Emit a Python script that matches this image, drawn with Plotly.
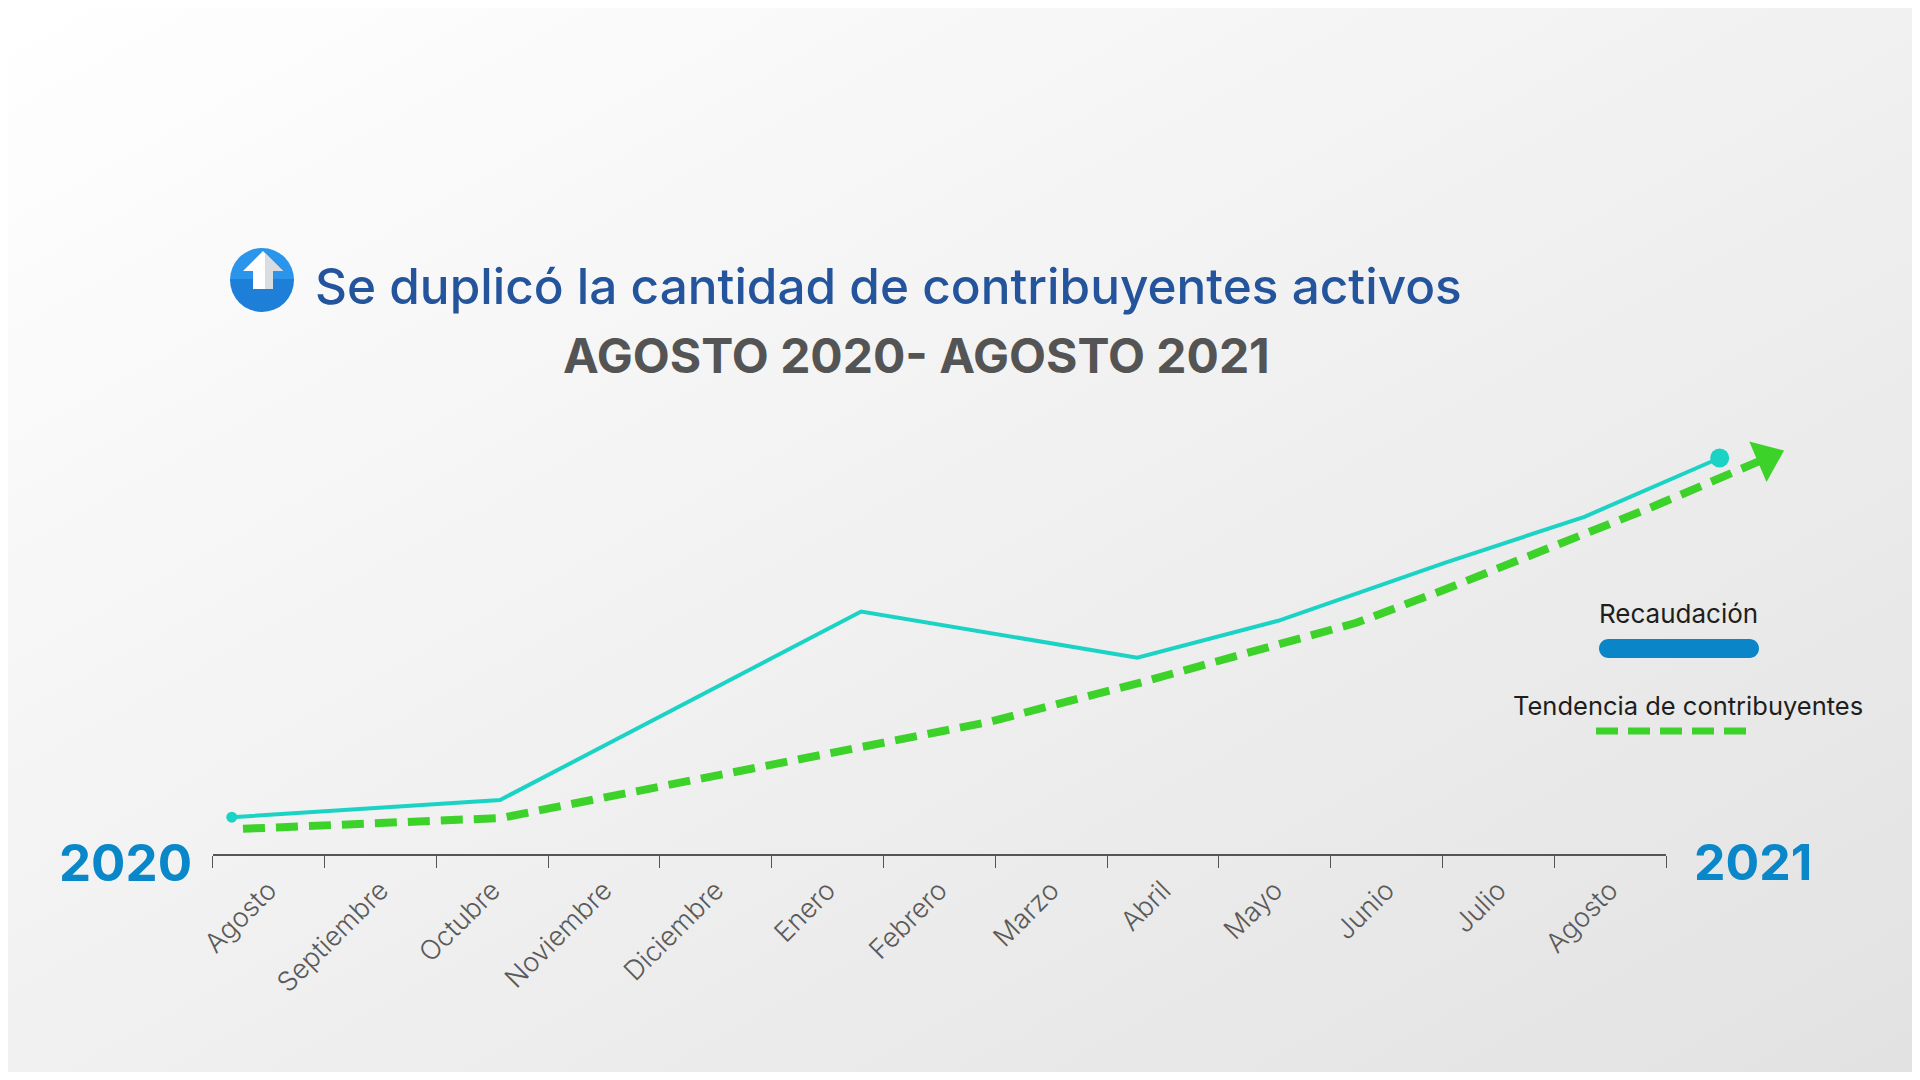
import base64
import plotly.graph_objects as go

# la pagina deja 8 px de margen en el body: la figura ocupa 1904x1064
OFF = 8
W, H = 1920 - 2 * OFF, 1080 - 2 * OFF

# categorías del eje
meses = ["Agosto", "Septiembre", "Octubre", "Noviembre", "Diciembre", "Enero",
         "Febrero", "Marzo", "Abril", "Mayo", "Junio", "Julio", "Agosto"]

# series (x en unidades de mes, 0 = Agosto 2020; y = índice 0-100)
recaudacion_x = [-0.33, 2.07, 5.30, 7.77, 9.03, 10.52, 11.77, 12.98]
recaudacion_y = [9.2, 13.5, 60.6, 49.1, 58.3, 72.8, 84.3, 99.0]

tendencia_x = [-0.23, 2.08, 2.40, 6.44, 7.79, 9.10, 9.73, 10.51, 11.79, 12.38, 13.40]
tendencia_y = [6.3, 9.0, 10.8, 33.0, 42.8, 52.8, 57.8, 66.0, 80.3, 86.8, 99.0]

anio_inicio = "2020"
anio_fin = "2021"
titulo = "Se duplicó la cantidad de contribuyentes activos"
subtitulo = "AGOSTO 2020- AGOSTO 2021"
leyenda = ["Recaudación", "Tendencia de contribuyentes"]

# estilos
FONT = "Inter, Open Sans, sans-serif"
CYAN = "#1BD3C5"
GREEN = "#3DD22A"
BLUE_LEG = "#0A86C8"
AXIS_C = "#555555"

# geometria (pixeles de pantalla)
AX_Y = 854
AX_X0, AX_X1 = 212.8, 1666.0
Y_TOP = 414
step = (AX_X1 - AX_X0) / len(meses)


def SX(x):
    return (x - OFF) / W


def SY(y):
    return 1 - (y - OFF) / H


def P(x, y):
    return f"{SX(x):.5f},{SY(y):.5f}"


y_dom = [SY(AX_Y), SY(Y_TOP)]

# fondo degradado
bg_svg = ('<svg xmlns="http://www.w3.org/2000/svg" width="1920" height="1080" viewBox="0 0 1920 1080" '
          'preserveAspectRatio="none"><defs><linearGradient id="g" x1="0" y1="0" x2="1" y2="1">'
          '<stop offset="0" stop-color="#FFFFFF"/><stop offset="1" stop-color="#E2E2E2"/>'
          '</linearGradient></defs><rect width="1920" height="1080" fill="url(#g)"/></svg>')

icon_svg = ('<svg xmlns="http://www.w3.org/2000/svg" width="64" height="64" viewBox="0 0 64 64">'
            '<defs><clipPath id="c"><circle cx="32" cy="32" r="32"/></clipPath></defs>'
            '<g clip-path="url(#c)"><rect width="64" height="33" fill="#2B95EC"/>'
            '<rect y="31" width="64" height="33" fill="#1D7FD7"/></g>'
            '<path d="M33 3 L13 23 L23 23 L23 41 L43 41 L43 23 L53 23 Z" fill="#FFFFFF"/>'
            '<path d="M33 3 L53 23 L43 23 L43 41 L35 41 L35 5 Z" fill="#D9DCE0"/></svg>')


def uri(svg):
    return "data:image/svg+xml;base64," + base64.b64encode(svg.encode()).decode()


fig = go.Figure()

# traza invisible para que se dibuje el eje de meses
fig.add_trace(go.Scatter(x=list(range(len(meses))), y=[0] * len(meses), mode="none",
                         hoverinfo="skip", xaxis="x", yaxis="y"))

fig.add_trace(go.Scatter(
    x=tendencia_x, y=tendencia_y, mode="lines+markers",
    line=dict(color=GREEN, width=8, dash="22px,11px"),
    marker=dict(symbol="triangle-up", angleref="previous", color=GREEN, opacity=1,
                size=[0] * (len(tendencia_x) - 1) + [38], line=dict(width=0)),
    cliponaxis=False, hoverinfo="skip", xaxis="x2", yaxis="y2"))

fig.add_trace(go.Scatter(
    x=recaudacion_x, y=recaudacion_y, mode="lines+markers",
    line=dict(color=CYAN, width=4),
    marker=dict(color=CYAN, opacity=1, size=[11] + [0] * (len(recaudacion_x) - 2) + [19],
                line=dict(width=0)),
    cliponaxis=False, hoverinfo="skip", xaxis="x2", yaxis="y2"))

# barra azul de la leyenda con extremos redondeados
r, k, cy = 9.5, 0.5523, 648.5
xa, xb = 1608.5, 1749.5
bar_path = (f"M{P(xa, cy - r)} L{P(xb, cy - r)} "
            f"C{P(xb + k * r, cy - r)} {P(xb + r, cy - k * r)} {P(xb + r, cy)} "
            f"C{P(xb + r, cy + k * r)} {P(xb + k * r, cy + r)} {P(xb, cy + r)} "
            f"L{P(xa, cy + r)} "
            f"C{P(xa - k * r, cy + r)} {P(xa - r, cy + k * r)} {P(xa - r, cy)} "
            f"C{P(xa - r, cy - k * r)} {P(xa - k * r, cy - r)} {P(xa, cy - r)} Z")

shapes = [
    dict(type="path", xref="paper", yref="paper", path=bar_path,
         fillcolor=BLUE_LEG, line=dict(width=0)),
    dict(type="line", xref="paper", yref="paper", x0=SX(1596), x1=SX(1747),
         y0=SY(731), y1=SY(731), line=dict(color=GREEN, width=7, dash="22px,10px")),
]

annotations = [
    dict(text=titulo, x=SX(888), y=SY(286), xref="paper", yref="paper", showarrow=False,
         xanchor="center", yanchor="middle",
         font=dict(family=FONT, size=49.5, color="#24559C", weight=500)),
    dict(text=subtitulo, x=SX(916), y=SY(355), xref="paper", yref="paper", showarrow=False,
         xanchor="center", yanchor="middle",
         font=dict(family=FONT, size=48, color="#545454", weight=700)),
    dict(text=anio_inicio, x=SX(194), y=SY(862), xref="paper", yref="paper", showarrow=False,
         xanchor="right", yanchor="middle",
         font=dict(family=FONT, size=51, color="#0A87C8", weight=700)),
    dict(text=anio_fin, x=SX(1692), y=SY(862), xref="paper", yref="paper", showarrow=False,
         xanchor="left", yanchor="middle",
         font=dict(family=FONT, size=50, color="#0A87C8", weight=700)),
    dict(text=leyenda[0], x=SX(1678), y=SY(613), xref="paper", yref="paper", showarrow=False,
         xanchor="center", yanchor="middle",
         font=dict(family=FONT, size=26, color="#1E1E1E", weight=400)),
    dict(text=leyenda[1], x=SX(1688), y=SY(705), xref="paper", yref="paper", showarrow=False,
         xanchor="center", yanchor="middle",
         font=dict(family=FONT, size=25.5, color="#1E1E1E", weight=400)),
]

images = [
    dict(source=uri(bg_svg), xref="paper", yref="paper", x=0, y=1, sizex=1, sizey=1,
         xanchor="left", yanchor="top", sizing="stretch", layer="below"),
    dict(source=uri(icon_svg), xref="paper", yref="paper", x=SX(230), y=SY(248),
         sizex=64 / W, sizey=64 / H, xanchor="left", yanchor="top", sizing="stretch", layer="above"),
]

fig.update_layout(
    width=W, height=H,
    margin=dict(l=0, r=0, t=0, b=0),
    paper_bgcolor="#EFEFEF",
    plot_bgcolor="rgba(0,0,0,0)",
    showlegend=False,
    xaxis=dict(
        domain=[SX(AX_X0), SX(AX_X1)], range=[-0.5, len(meses) - 0.5], anchor="y",
        automargin=False,
        tickmode="array", tickvals=list(range(len(meses))), ticktext=meses,
        ticks="", tickangle=-45, ticklabelstandoff=8,
        tickfont=dict(family=FONT, size=27, color="#5A5A5A", weight=300),
        showline=True, linecolor=AXIS_C, linewidth=1.5,
        showgrid=False, zeroline=False, fixedrange=True,
        minor=dict(tickmode="array", tickvals=[i - 0.5 for i in range(len(meses) + 1)],
                   ticks="outside", ticklen=12, tickwidth=1.2, tickcolor=AXIS_C, showgrid=False),
    ),
    yaxis=dict(domain=y_dom, range=[0, 110], anchor="x", visible=False,
               automargin=False, fixedrange=True),
    xaxis2=dict(domain=[0, 1],
                range=[(OFF - AX_X0) / step - 0.5, (OFF + W - AX_X0) / step - 0.5],
                anchor="y2", visible=False, automargin=False, fixedrange=True),
    yaxis2=dict(domain=y_dom, range=[0, 110], anchor="x2", visible=False,
                automargin=False, fixedrange=True),
    shapes=shapes,
    annotations=annotations,
    images=images,
)

fig.write_html("out.html")
